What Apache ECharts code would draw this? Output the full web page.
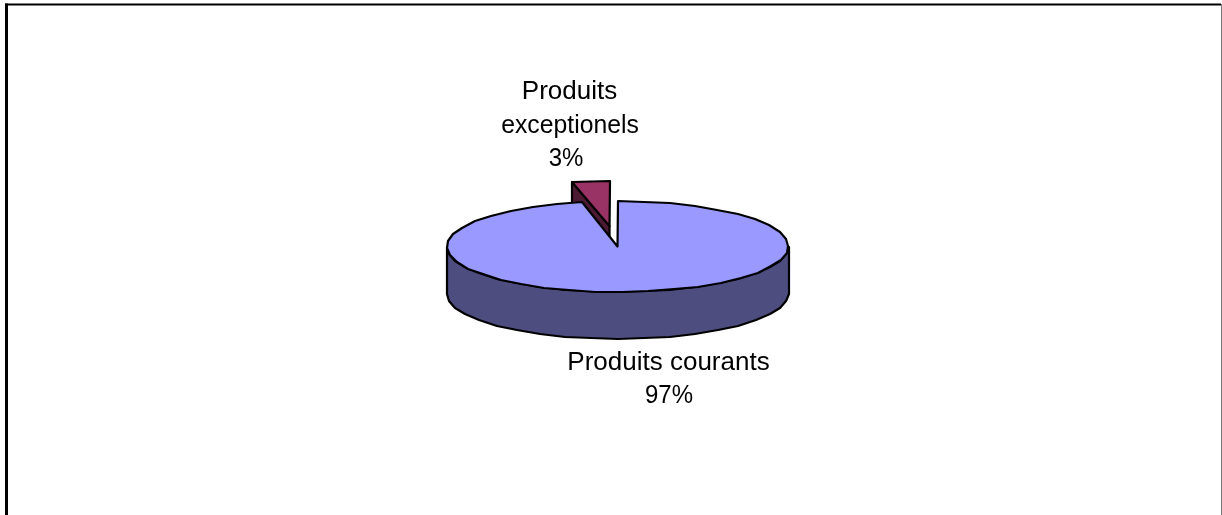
<!DOCTYPE html>
<html><head><meta charset="utf-8">
<style>html,body{margin:0;padding:0;background:#fff}#c{width:1222px;height:515px}</style>
<script src="https://cdn.jsdelivr.net/npm/echarts@6/dist/echarts.min.js"></script>
</head><body><div id="c"></div>
<script>
var categories = ['Produits courants', 'Produits exceptionels'];
var values = [96.7, 3.3];
var percentLabels = ['97%', '3%'];
var chart = echarts.init(document.getElementById('c'));

var CX = 617.5, CY = 246.5, RX = 171, RY = 45.5, DEPTH = 47, EXPLODE = 0.45, STEP = 9;
var FONT = '25px "Liberation Sans", Arial, sans-serif';
var lineStyle = {stroke: '#000', lineWidth: 2.2, lineJoin: 'round'};

function pt(a, ox, oy) {
  return [Math.round(CX + (ox || 0) + RX * Math.sin(a)), Math.round(CY + (oy || 0) - RY * Math.cos(a))];
}
function arc(a0, a1, ox, oy) {
  var pts = [], n = Math.max(1, Math.round(Math.abs(a1 - a0) / (STEP * Math.PI / 180)));
  for (var i = 0; i <= n; i++) pts.push(pt(a0 + (a1 - a0) * i / n, ox, oy));
  return pts;
}
function poly(points, fill, z2) {
  return {type: 'polygon', z2: z2, shape: {points: points}, style: Object.assign({fill: fill}, lineStyle)};
}
// each line: [text, centre x, baseline y, horizontal stretch]
function label(lines) {
  return lines.map(function (l) {
    return {type: 'text', z2: 30, x: l[1], y: l[2], scaleX: l[3],
      style: {text: l[0], x: 0, y: 0, font: FONT, fill: '#000', textAlign: 'center', textVerticalAlign: 'bottom'}};
  });
}

chart.setOption({
  animation: false,
  backgroundColor: '#fff',
  graphic: [
    {type: 'line', shape: {x1: 6.5, y1: 3.5, x2: 6.5, y2: 515}, style: {stroke: '#000', lineWidth: 3}},
    {type: 'line', shape: {x1: 5, y1: 4.5, x2: 1221, y2: 4.5}, style: {stroke: '#000', lineWidth: 2}},
    {type: 'line', shape: {x1: 1221.5, y1: 4, x2: 1221.5, y2: 515}, style: {stroke: '#777', lineWidth: 1}}
  ],
  xAxis: {show: false}, yAxis: {show: false},
  series: [{
    type: 'custom',
    coordinateSystem: 'none',
    silent: true,
    data: values,
    renderItem: function (params, api) {
      if (params.dataIndex !== 0) return null;
      var total = values[0] + values[1];
      var mainEnd = values[0] / total * 2 * Math.PI;
      var mid = mainEnd + (2 * Math.PI - mainEnd) / 2;
      var ox = RX * EXPLODE * Math.sin(mid), oy = -RY * EXPLODE * Math.cos(mid);
      var apex = [CX + ox, CY + oy];
      var smallArc = arc(mainEnd - 0.016, 2 * Math.PI, ox, oy);
      var wall = [apex, smallArc[0], [smallArc[0][0], smallArc[0][1] + DEPTH], [apex[0], apex[1] + DEPTH]];
      var side = arc(Math.PI / 2, 3 * Math.PI / 2);
      var sideBottom = side.map(function (p) { return [p[0], p[1] + DEPTH]; }).reverse();
      var top = [[CX, CY]].concat(arc(0, mainEnd));
      return {type: 'group', children: [
        poly(wall, '#4d1a33', 2),
        poly([apex].concat(smallArc), '#993366', 3),
        poly(side.concat(sideBottom), '#4d4d80', 4),
        poly(top, '#9999ff', 5)
      ].concat(label([
        ['Produits', 569.5, 105, 1.04],
        ['exceptionels', 570, 139, 0.99],
        [percentLabels[1], 566, 172, 0.96],
        [categories[0], 668.5, 376, 1.04],
        [percentLabels[0], 669, 409, 0.96]
      ]))};
    }
  }]
});
</script></body></html>
